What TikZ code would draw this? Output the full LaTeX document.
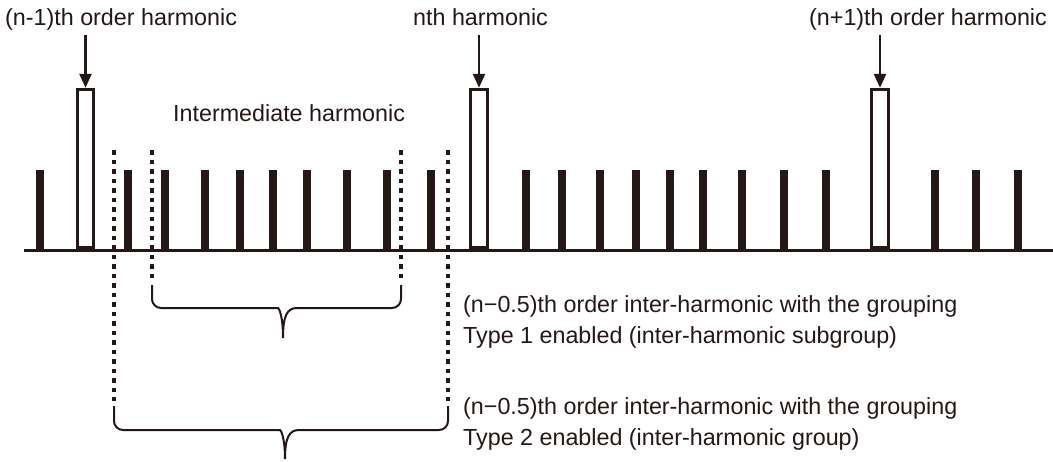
\documentclass[tikz,border=0pt]{standalone}
\usepackage{fontspec}
\setmainfont{Liberation Sans}
\usetikzlibrary{arrows.meta}
\definecolor{ink}{HTML}{231815}
\begin{document}
\begin{tikzpicture}[x=1pt,y=-1pt,
  bar/.style={rectangle, fill=ink, draw=none, minimum width=7.5pt, minimum height=80pt, inner sep=0pt, anchor=south},
  hbox/.style={rectangle, draw=ink, line width=3.2pt, fill=white, minimum width=16.5pt, minimum height=158pt, inner sep=0pt, anchor=south},
  lbl/.style={font=\fontsize{23.3}{30}\selectfont, text=ink, inner sep=0pt, anchor=base west},
  pointer/.style={draw=ink, line width=2.5pt, -{Triangle[length=14pt,width=12pt]}},
  guide/.style={draw=ink, line width=3.5pt, dash pattern=on 4.5pt off 5pt},
  brace/.style={draw=ink, line width=2pt}
]
\useasboundingbox (0,0) rectangle (1053,461);

% ordinary bars
\foreach \x [count=\i] in {40,128,165,205,240,273,307,347,387,431,526,562,600,636,670,703,742,784,826,935,976,1018}
  \node[bar] (b\i) at (\x,250) {};

% harmonic boxes
\node[hbox] (h1) at (85.5,249) {};
\node[hbox] (h2) at (479,249) {};
\node[hbox] (h3) at (880,249) {};

% axis
\coordinate (axl) at (24,250);
\coordinate (axr) at (1053,250);
\draw[ink, line width=3pt] (axl) -- (axr);

% top labels
\node[lbl] (t1) at (5,25) {(n-1)th order harmonic};
\node[lbl] (t2) at (413,25) {nth harmonic};
\node[lbl] (t3) at (809,25) {(n+1)th order harmonic};
\node[lbl] (tm) at (173,121) {Intermediate harmonic};

% arrows
\coordinate (p1) at (85.5,35);
\coordinate (p2) at (479,35);
\coordinate (p3) at (880,35);
\draw[pointer] (p1) -- (h1.north);
\draw[pointer] (p2) -- (h2.north);
\draw[pointer] (p3) -- (h3.north);

% guide lines
\coordinate (g1t) at (152,150); \coordinate (g1b) at (152,280);
\coordinate (g2t) at (401,150); \coordinate (g2b) at (401,280);
\coordinate (g3t) at (114,150); \coordinate (g3b) at (114,401);
\coordinate (g4t) at (448,150); \coordinate (g4b) at (448,401);
\draw[guide] (g1t) -- (g1b);
\draw[guide] (g2t) -- (g2b);
\draw[guide] (g3t) -- (g3b);
\draw[guide] (g4t) -- (g4b);

% braces
\draw[brace] (152,285) [rounded corners=9pt] -- (152,308) -- (269,308) [sharp corners]
  .. controls (279,308) and (283,316) .. (283,338)
  .. controls (283,316) and (287,308) .. (297,308) [rounded corners=9pt]
  -- (401,308) -- (401,285);
\draw[brace] (114,406) [rounded corners=9pt] -- (114,430) -- (271,430) [sharp corners]
  .. controls (281,430) and (285,438) .. (285,459)
  .. controls (285,438) and (289,430) .. (299,430) [rounded corners=9pt]
  -- (448,430) -- (448,406);

% right labels
\node[lbl] (r1) at (463,312) {(n−0.5)th order inter-harmonic with the grouping};
\node[lbl] (r2) at (463,343) {Type 1 enabled (inter-harmonic subgroup)};
\node[lbl] (r3) at (463,414) {(n−0.5)th order inter-harmonic with the grouping};
\node[lbl] (r4) at (463,445) {Type 2 enabled (inter-harmonic group)};
\end{tikzpicture}
\end{document}
